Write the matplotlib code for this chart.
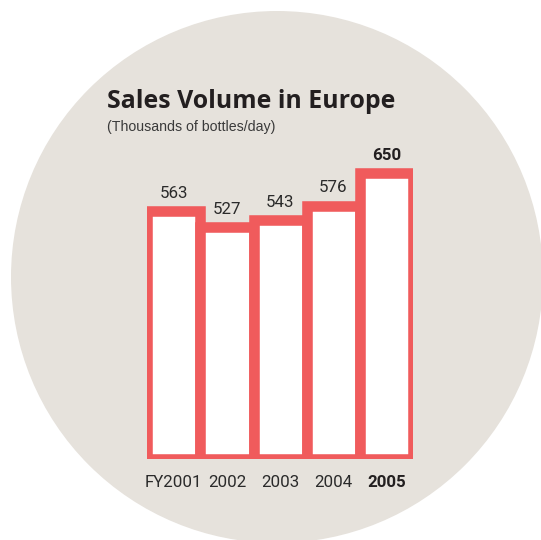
import matplotlib
matplotlib.use("Agg")
import matplotlib.pyplot as plt
from matplotlib.patches import Circle

# Data
categories = ["FY2001", "2002", "2003", "2004", "2005"]
values = [563, 527, 543, 576, 650]
value_labels = ["563", "527", "543", "576", "650"]

title = "Sales Volume in Europe"
subtitle = "(Thousands of bottles/day)"

W, H = 541, 540
RED = "#f05b5c"
DISC = "#e6e2dc"
TEXT = "#231f20"

fig = plt.figure(figsize=(W / 100, H / 100), dpi=100)
fig.patch.set_facecolor("white")

# Background layer in pixel coordinates (origin top-left)
bg = fig.add_axes([0, 0, 1, 1])
bg.set_xlim(0, W)
bg.set_ylim(H, 0)
bg.axis("off")
bg.add_patch(Circle((277, 277), 266, facecolor=DISC, edgecolor="none"))

bg.text(107, 107.5, title, fontsize=17.9, fontweight="bold",
        family=["Open Sans", "DejaVu Sans"], color=TEXT,
        ha="left", va="baseline")
bg.text(107, 131, subtitle, fontsize=10.2,
        family=["Liberation Sans", "DejaVu Sans"], color="#3a3a3a",
        ha="left", va="baseline")

# Bar layer
left_px, right_px = 147.0, 413.3
base_px = 459.0
px_per_unit = 0.44
ymax = 700
ax = fig.add_axes([left_px / W, (H - base_px) / H,
                   (right_px - left_px) / W, ymax * px_per_unit / H])
ax.set_facecolor("none")
x = list(range(len(categories)))
ax.bar(x, values, width=1.0, color="white", edgecolor=RED,
       linewidth=7.6, joinstyle="miter")
ax.set_xlim(-0.5, len(categories) - 0.5)
ax.set_ylim(0, ymax)
for s in ax.spines.values():
    s.set_visible(False)
ax.set_yticks([])
ax.set_xticks(x)
ax.set_xticklabels(categories, fontsize=12.2, family=["Roboto", "DejaVu Sans"],
                   color="#2a2a2a")
ax.tick_params(axis="x", length=0, pad=11.5)
ax.get_xticklabels()[-1].set_fontweight("bold")
ax.get_xticklabels()[-1].set_color(TEXT)

for i, (v, lab) in enumerate(zip(values, value_labels)):
    last = i == len(values) - 1
    ax.annotate(lab, (i, v), xytext=(0, 9.5), textcoords="offset points",
                ha="center", va="baseline", fontsize=12.2,
                fontweight="bold" if last else "normal",
                family=["Roboto", "DejaVu Sans"],
                color=TEXT if last else "#2a2a2a")

fig.savefig("out.png", dpi=100)
